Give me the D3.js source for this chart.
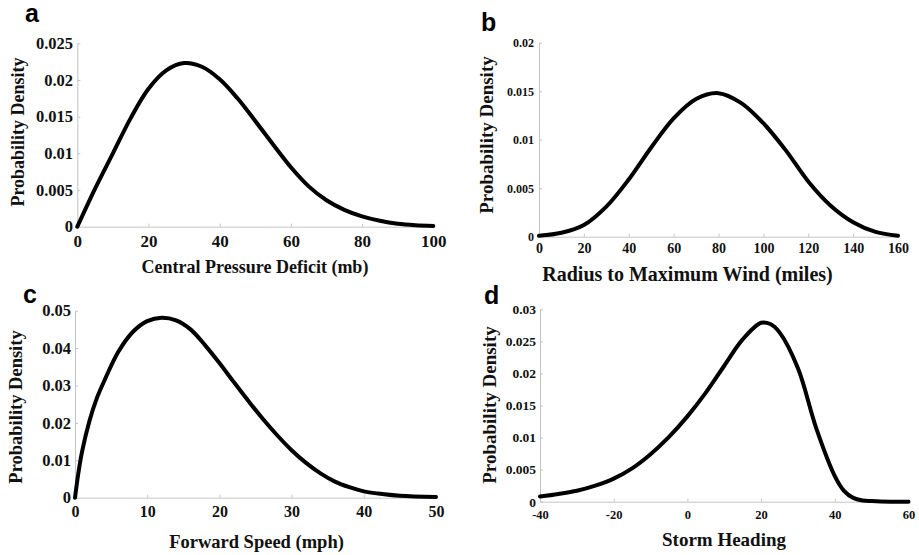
<!DOCTYPE html>
<html><head>
<meta charset="UTF-8">
<title>Storm parameter probability densities</title>
<script src="https://cdn.jsdelivr.net/npm/d3@7"></script>
<style>
  body { margin: 0; background: #fff; }
  svg { display: block; }
  .tick text, .title, .ylab { font-family: "Liberation Serif", "Times New Roman", serif; font-weight: bold; fill: #111; }
  .letter { font-family: "Liberation Sans", Arial, sans-serif; font-weight: bold; fill: #000; }
  .axis path, .axis line { stroke: #c4c4c4; stroke-width: 1; }
  .curve { fill: none; stroke: #000; stroke-width: 4; stroke-linejoin: round; stroke-linecap: round; }
</style>
</head>
<body>
<div id="chart"></div>
<script>
// (a) central pressure deficit
const aX = [0, 5, 10, 15, 20, 25, 30, 35, 40, 45, 50, 55, 60, 65, 70, 75, 80, 85, 90, 95, 100];
const aY = [0, 0.0052, 0.0100, 0.0148, 0.0188, 0.0213, 0.0223, 0.0218, 0.0201, 0.0175, 0.0144,
            0.0112, 0.0081, 0.0055, 0.0036, 0.0023, 0.0014, 0.0008, 0.0004, 0.0002, 0.0001];
const aXTicks = [0, 20, 40, 60, 80, 100];
const aYTicks = [0, 0.005, 0.01, 0.015, 0.02, 0.025];

// (b) radius to maximum wind
const bX = [0, 10, 20, 30, 40, 50, 60, 70, 80, 90, 100, 110, 120, 130, 140, 150, 160];
const bY = [0.0001, 0.0004, 0.0012, 0.0031, 0.0059, 0.0092, 0.0122, 0.0142, 0.0148, 0.0138,
            0.0117, 0.0089, 0.0057, 0.0032, 0.0015, 0.0005, 0.0001];
const bXTicks = [0, 20, 40, 60, 80, 100, 120, 140, 160];
const bYTicks = [0, 0.005, 0.01, 0.015, 0.02];

// (c) forward speed
const cX = [0, 0.5, 1, 2, 3, 4, 6, 8, 10, 12, 14, 16, 18, 20, 22, 24, 26, 28, 30, 32, 34, 36, 38, 40, 42, 45, 50];
const cY = [0, 0.007, 0.0125, 0.0205, 0.0265, 0.031, 0.039, 0.0443, 0.0472, 0.0481, 0.0474, 0.0450, 0.0408,
            0.0360, 0.0309, 0.0259, 0.0211, 0.0167, 0.0127, 0.0093, 0.0065, 0.0043, 0.0028, 0.0017, 0.0011, 0.0005, 0.0002];
const cXTicks = [0, 10, 20, 30, 40, 50];
const cYTicks = [0, 0.01, 0.02, 0.03, 0.04, 0.05];

// (d) storm heading
const dX = [-40, -35, -30, -25, -20, -15, -10, -5, 0, 5, 10, 15, 20, 22.5, 25, 30, 35, 40, 42.5, 45, 47.5, 50, 55, 60];
const dY = [0.0008, 0.0012, 0.0017, 0.0025, 0.0036, 0.0052, 0.0074, 0.0101, 0.0133, 0.0170, 0.0212, 0.0253,
            0.0279, 0.0277, 0.0264, 0.0208, 0.0114, 0.0040, 0.0017, 0.0006, 0.0002, 0.0001, 0, 0];
const dXTicks = [-40, -20, 0, 20, 40, 60];
const dYTicks = [0, 0.005, 0.01, 0.015, 0.02, 0.025, 0.03];

const panels = [
  {letter: "a", xs: aX, ys: aY, xTicks: aXTicks, yTicks: aYTicks, title: "Central Pressure Deficit (mb)",
   xr: [77.3, 433.3], yr: [226.7, 43.3], yFs: 16.5, yEnd: 73, xFs: 17, xBase: 247,
   tFs: 18, tBase: 273, tX: 255, lFs: 18, lX: 24, lY: 132, letX: 25, letY: 22},
  {letter: "b", xs: bX, ys: bY, xTicks: bXTicks, yTicks: bYTicks, title: "Radius to Maximum Wind (miles)",
   xr: [539, 898], yr: [236.7, 42.7], yFs: 12, yEnd: 534, xFs: 14, xBase: 253,
   tFs: 20, tBase: 281, tX: 687.5, lFs: 19, lX: 493, lY: 135, letX: 481, letY: 31},
  {letter: "c", xs: cX, ys: cY, xTicks: cXTicks, yTicks: cYTicks, title: "Forward Speed (mph)",
   xr: [75, 436], yr: [497.7, 310.7], yFs: 16.5, yEnd: 71, xFs: 16, xBase: 517,
   tFs: 18.5, tBase: 548, tX: 256.5, lFs: 18.5, lX: 22, lY: 407, letX: 23, letY: 303},
  {letter: "d", xs: dX, ys: dY, xTicks: dXTicks, yTicks: dYTicks, title: "Storm Heading",
   xr: [540, 908.5], yr: [501.7, 309.3], yFs: 13.5, yEnd: 536, xFs: 12.5, xBase: 519,
   tFs: 19, tBase: 546, tX: 724, lFs: 19, lX: 496, lY: 405, letX: 484, letY: 304}
];

const svg = d3.select("#chart").append("svg")
    .attr("width", 919)
    .attr("height", 555);

panels.forEach(p => {
  const x = d3.scaleLinear().domain(d3.extent(p.xTicks)).range(p.xr);
  const y = d3.scaleLinear().domain(d3.extent(p.yTicks)).range(p.yr);
  const g = svg.append("g");

  // x axis
  const xPad = p.xBase - p.yr[0] - 0.71 * p.xFs;
  g.append("g")
      .attr("class", "axis")
      .attr("transform", `translate(0,${p.yr[0]})`)
      .call(d3.axisBottom(x).tickValues(p.xTicks).tickFormat(d => String(d))
        .tickSizeInner(-3).tickSizeOuter(0).tickPadding(xPad))
      .selectAll("text").style("font-size", p.xFs + "px");

  // y axis
  g.append("g")
      .attr("class", "axis")
      .attr("transform", `translate(${p.xr[0]},0)`)
      .call(d3.axisLeft(y).tickValues(p.yTicks).tickFormat(d => String(d))
        .tickSizeInner(-3).tickSizeOuter(0).tickPadding(p.xr[0] - p.yEnd))
      .selectAll("text").style("font-size", p.yFs + "px");

  g.selectAll(".tick text").attr("fill", "#111");

  // curve
  const line = d3.line()
      .x((d, i) => x(p.xs[i]))
      .y(d => y(d))
      .curve(d3.curveCatmullRom.alpha(0.5));
  g.append("path")
      .datum(p.ys)
      .attr("class", "curve")
      .attr("d", line);

  // axis titles
  g.append("text")
      .attr("class", "title")
      .attr("x", p.tX)
      .attr("y", p.tBase)
      .attr("text-anchor", "middle")
      .style("font-size", p.tFs + "px")
      .text(p.title);

  g.append("text")
      .attr("class", "ylab")
      .attr("transform", `translate(${p.lX},${p.lY}) rotate(-90)`)
      .attr("text-anchor", "middle")
      .style("font-size", p.lFs + "px")
      .text("Probability Density");

  // panel letter
  g.append("text")
      .attr("class", "letter")
      .attr("x", p.letX)
      .attr("y", p.letY)
      .style("font-size", "25px")
      .text(p.letter);
});
</script>
</body></html>
